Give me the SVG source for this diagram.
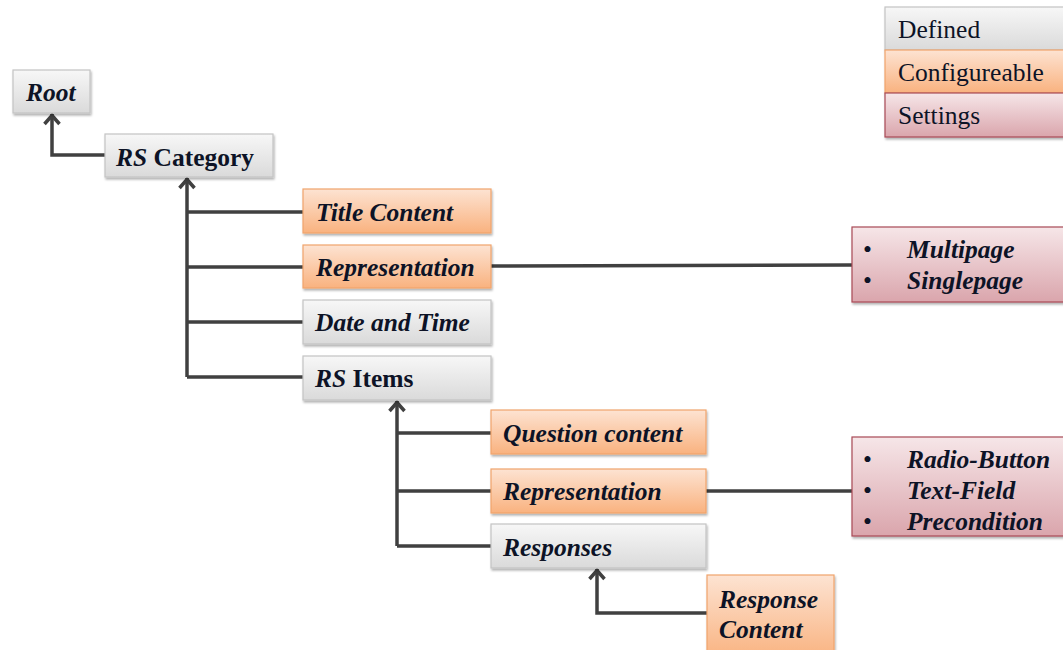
<svg xmlns="http://www.w3.org/2000/svg" width="1063" height="650" viewBox="0 0 1063 650">
<defs>
<linearGradient id="gDef" x1="0" y1="0" x2="0" y2="1"><stop offset="0" stop-color="#f7f7f7"/><stop offset="1" stop-color="#dadada"/></linearGradient>
<linearGradient id="gCfg" x1="0" y1="0" x2="0" y2="1"><stop offset="0" stop-color="#fde3d2"/><stop offset="1" stop-color="#f9b27f"/></linearGradient>
<linearGradient id="gSet" x1="0" y1="0" x2="0" y2="1"><stop offset="0" stop-color="#f6e6e8"/><stop offset="1" stop-color="#daa5ac"/></linearGradient>
<filter id="sh" x="-10%" y="-10%" width="130%" height="140%"><feDropShadow dx="1" dy="2" stdDeviation="1.2" flood-color="#000" flood-opacity="0.3"/></filter>
<marker id="arr" markerUnits="userSpaceOnUse" markerWidth="24" markerHeight="24" viewBox="-14 -12 24 24" refX="0" refY="0" orient="auto">
<path d="M-10,-7.5 L-1.5,0 L-10,7.5" fill="none" stroke="#404040" stroke-width="3.5" stroke-linejoin="miter"/>
</marker>
</defs>
<style>
.def{fill:url(#gDef);stroke:#c4c4c4;stroke-width:1.2;filter:url(#sh)}
.cfg{fill:url(#gCfg);stroke:#f0a46c;stroke-width:1.2;filter:url(#sh)}
.set{fill:url(#gSet);stroke:#a84a56;stroke-width:1.2;filter:url(#sh)}
.t{font-family:"Liberation Serif",serif;font-weight:bold;font-style:italic;font-size:25.5px;fill:#0d1326}
.n{font-style:normal}
.b{font-style:normal;font-weight:normal}
.lg{font-family:"Liberation Serif",serif;font-size:25.5px;fill:#0d1326}
.c{fill:none;stroke:#404040;stroke-width:3.5}
</style>
<g id="connectors">
<path class="c" d="M105,155 H52 V114" marker-end="url(#arr)"/>
<path class="c" d="M187,377 V178" marker-end="url(#arr)"/>
<path class="c" d="M187,212 H303 M187,267 H303 M187,322 H303 M187,377 H303"/>
<path class="c" d="M491,266 L852,265"/>
<path class="c" d="M397,546 V401" marker-end="url(#arr)"/>
<path class="c" d="M397,433 H491 M397,491 H491 M397,546 H491"/>
<path class="c" d="M706,491 H852"/>
<path class="c" d="M707,613 H597 V569" marker-end="url(#arr)"/>
</g>
<g id="legend">
<rect class="def" x="885" y="7" width="185" height="43"/>
<rect class="cfg" x="885" y="50" width="185" height="43"/>
<rect class="set" x="885" y="93" width="185" height="44"/>
<text class="lg" x="898" y="38">Defined</text>
<text class="lg" x="898" y="81">Configureable</text>
<text class="lg" x="898" y="124">Settings</text>
</g>
<g id="root"><rect class="def" x="13" y="70" width="77" height="43"/><text class="t" x="26" y="101">Root</text></g>
<g id="rs-category"><rect class="def" x="105" y="134" width="168" height="43"/><text class="t" x="116" y="166">RS <tspan class="n">Category</tspan></text></g>
<g id="title-content"><rect class="cfg" x="303" y="189" width="188" height="44"/><text class="t" x="316" y="221">Title Content</text></g>
<g id="representation-1"><rect class="cfg" x="303" y="245" width="188" height="43"/><text class="t" x="316" y="276">Representation</text></g>
<g id="date-time"><rect class="def" x="303" y="300" width="188" height="44"/><text class="t" x="315" y="331">Date and Time</text></g>
<g id="rs-items"><rect class="def" x="303" y="356" width="188" height="44"/><text class="t" x="315" y="387">RS <tspan class="n">Items</tspan></text></g>
<g id="settings-1"><rect class="set" x="852" y="227" width="215" height="75"/>
<text class="t" x="863" y="258"><tspan class="b">•</tspan></text><text class="t" x="907" y="258">Multipage</text>
<text class="t" x="863" y="289"><tspan class="b">•</tspan></text><text class="t" x="907" y="289">Singlepage</text></g>
<g id="question-content"><rect class="cfg" x="491" y="410" width="215" height="44"/><text class="t" x="503" y="442">Question content</text></g>
<g id="representation-2"><rect class="cfg" x="491" y="469" width="215" height="44"/><text class="t" x="503" y="500">Representation</text></g>
<g id="responses"><rect class="def" x="491" y="524" width="215" height="44"/><text class="t" x="503" y="556">Responses</text></g>
<g id="settings-2"><rect class="set" x="852" y="437" width="215" height="99"/>
<text class="t" x="863" y="468"><tspan class="b">•</tspan></text><text class="t" x="907" y="468">Radio-Button</text>
<text class="t" x="863" y="499"><tspan class="b">•</tspan></text><text class="t" x="907" y="499">Text-Field</text>
<text class="t" x="863" y="530"><tspan class="b">•</tspan></text><text class="t" x="907" y="530">Precondition</text></g>
<g id="response-content"><rect class="cfg" x="707" y="575" width="127" height="85"/><text class="t" x="719" y="608">Response</text><text class="t" x="719" y="638">Content</text></g>
</svg>
